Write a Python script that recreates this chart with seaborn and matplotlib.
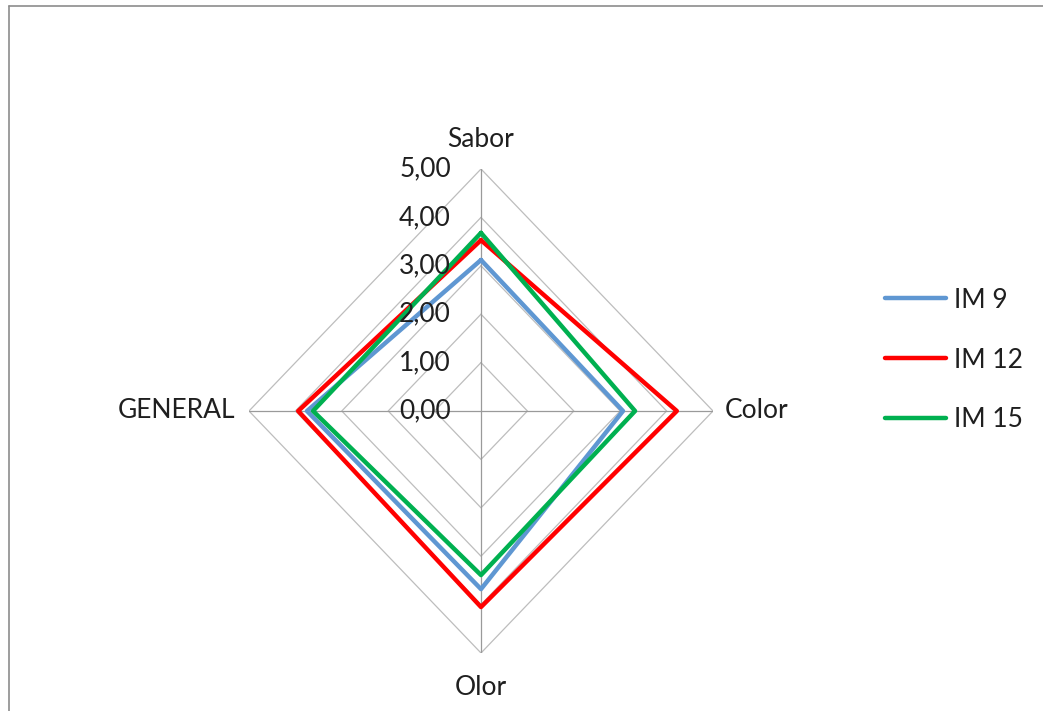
import numpy as np
import pandas as pd
import matplotlib
matplotlib.use("Agg")
import matplotlib.pyplot as plt
from matplotlib.lines import Line2D
import seaborn as sns

# Sensory scores per attribute (clockwise from the top)
attributes = ["Sabor", "Color", "Olor", "GENERAL"]
series_names = ["IM 9", "IM 12", "IM 15"]
im9 = [3.12, 3.06, 3.68, 3.75]
im12 = [3.53, 4.22, 4.05, 3.94]
im15 = [3.68, 3.32, 3.39, 3.62]
scale_ticks = [0, 1, 2, 3, 4, 5]
tick_labels = ["0,00", "1,00", "2,00", "3,00", "4,00", "5,00"]
colors = ["#5F97D2", "#FF0000", "#00B050"]

sns.set_theme(style="white")
plt.rcParams["font.family"] = ["Lato", "DejaVu Sans"]

W, H = 1043, 711
fig = plt.figure(figsize=(W / 100, H / 100), dpi=100)
cx, cy, rx, ry = 481, 411, 232, 242
ax = fig.add_axes([(cx - rx) / W, (H - cy - ry) / H, 2 * rx / W, 2 * ry / H])
ax.set_xlim(-5, 5)
ax.set_ylim(-5, 5)
ax.axis("off")

n = len(attributes)
angles = np.pi / 2 - np.arange(n) * 2 * np.pi / n
ux, uy = np.cos(angles), np.sin(angles)

# Polygonal grid and spokes
for t in scale_ticks[1:]:
    gx = np.append(ux * t, ux[0] * t)
    gy = np.append(uy * t, uy[0] * t)
    ax.plot(gx, gy, color="#BDBDBD", lw=0.9, zorder=1)
for i in range(n):
    ax.plot([0, ux[i] * 5], [0, uy[i] * 5], color="#9A9A9A", lw=0.9, zorder=1)

# Long-format table for seaborn, each polygon closed on its first point
rows = []
for name, vals in zip(series_names, [im9, im12, im15]):
    for k in list(range(n)) + [0]:
        rows.append({"serie": name, "order": len(rows),
                     "x": ux[k] * vals[k], "y": uy[k] * vals[k]})
df = pd.DataFrame(rows)
sns.lineplot(data=df, x="x", y="y", hue="serie", hue_order=series_names,
             palette=colors, sort=False, estimator=None, units="serie",
             lw=3.2, ax=ax, legend=False, zorder=3)

txt = "#1F1F1F"
fs = 19
# Radial scale labels along the top spoke
for t, lab in zip(scale_ticks, tick_labels):
    ax.text(-0.65, t, lab, ha="right", va="center", fontsize=fs, color=txt,
            clip_on=False, zorder=4)

# Attribute labels
ax.text(0, 5.35, attributes[0], ha="center", va="bottom", fontsize=fs, color=txt, clip_on=False)
ax.text(5.25, 0, attributes[1], ha="left", va="center", fontsize=fs, color=txt, clip_on=False)
ax.text(0, -5.45, attributes[2], ha="center", va="top", fontsize=fs, color=txt, clip_on=False)
ax.text(-5.3, 0, attributes[3], ha="right", va="center", fontsize=fs, color=txt, clip_on=False)

handles = [Line2D([0], [0], color=c, lw=3.2) for c in colors]
fig.legend(handles, series_names, loc="center left",
           bbox_to_anchor=(885 / W, (H - 360) / H), frameon=False,
           fontsize=fs, handlelength=2.3, handletextpad=0.3,
           labelspacing=1.32, borderpad=0, borderaxespad=0,
           labelcolor=txt)

# Chart frame
fig.add_artist(Line2D([9 / W, 1], [(H - 6) / H, (H - 6) / H], color="#8C8C8C", lw=1.2))
fig.add_artist(Line2D([9 / W, 9 / W], [0, (H - 6) / H], color="#8C8C8C", lw=1.2))

fig.savefig("out.png", dpi=100, facecolor="white")
